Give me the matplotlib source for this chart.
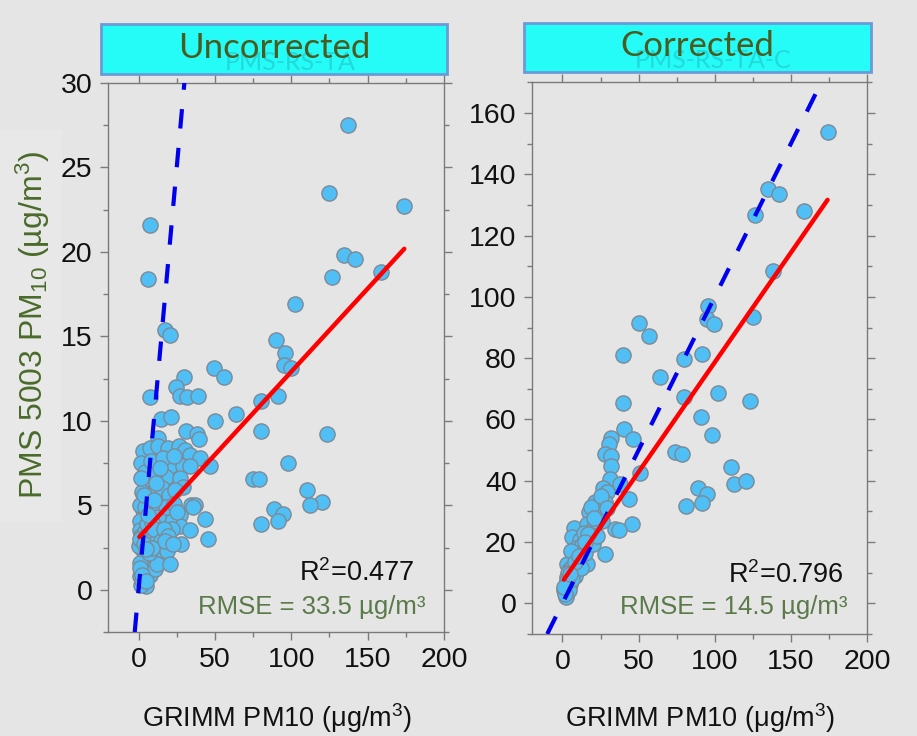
import matplotlib
matplotlib.use("Agg")
import matplotlib.pyplot as plt
from matplotlib.patches import Rectangle
from matplotlib.ticker import MultipleLocator
import numpy as np

plt.rcParams['font.family'] = ['Liberation Sans', 'DejaVu Sans']
plt.rcParams['mathtext.fontset'] = 'custom'
plt.rcParams['mathtext.rm'] = 'Liberation Sans'
plt.rcParams['mathtext.it'] = 'Liberation Sans:italic'
plt.rcParams['mathtext.bf'] = 'Liberation Sans:bold'
plt.rcParams['lines.scale_dashes'] = False

# ---------------- data ----------------
panel_titles = ["Uncorrected", "Corrected"]
panel_ghost_titles = ["PMS-RS-TA", "PMS-RS-TA-C"]
x_label = "GRIMM PM10 (μg/m$^3$)"
y_label = "PMS 5003 PM$_{10}$ (µg/m$^3$)"
r2_texts = ["R$^2$=0.477", "R$^2$=0.796"]
rmse_texts = ["RMSE = 33.5 µg/m³", "RMSE = 14.5 µg/m³"]

unc_x = [137.0, 124.7, 174.0, 7.2, 134.7, 142.0, 158.5, 126.4, 6.4, 102.4,
         17.1, 20.5, 90.1, 95.6, 95.1, 99.5, 49.7, 30.0, 56.0, 24.7,
         27.3, 31.7, 38.9, 7.6, 91.2, 80.0, 63.6, 50.3, 14.4, 21.4,
         80.5, 123.1, 31.3, 38.3, 39.4, 12.7,
         2.8, 7.2, 12.7, 19.2, 26.2, 30.2, 33.5, 40.0, 46.6,
         98.0, 13.8, 21.9, 29.1, 33.5, 75.0, 78.7,
         3.9, 9.4, 13.8, 18.2, 26.9, 29.1, 110.0, 120.0, 112.2,
         88.4, 94.3, 91.2, 80.5, 34.6, 36.7, 35.6, 43.3,
         26.9, 26.9, 33.5, 20.3, 22.1, 15.9, 11.6, 7.2, 2.8, 0.7, 7.2,
         0.7, 13.8, 15.9, 17.0, 9.4, 2.8, 0.7, 3.9, 5.0, 45.5, 28.0,
         1.5, 4.0, 8.0, 10.5, 16.0, 23.5, 5.5, 11.0, 15.5, 20.0,
         24.0, 2.0, 1.0, 4.5, 9.5, 13.0, 18.0, 23.0, 1.8, 4.5,
         6.0, 9.0, 11.5, 12.5, 2.0, 4.0, 6.5, 1.0, 3.0, 7.5,
         10.5, 1.5, 2.5, 5.5, 8.5, 10.0, 12.0, 14.5, 16.5, 19.0,
         18.5, 20.5, 0.5, 1.2, 3.3, 6.8, 8.8, 0.9, 2.2, 5.0,
         17.5, 22.5, 25.0, 6.0, 3.5, 1.4, 11.2, 14.0, 9.8, 4.8]
unc_y = [27.5, 23.5, 22.7, 21.6, 19.8, 19.6, 18.8, 18.5, 18.4, 16.9,
         15.4, 15.1, 14.8, 14.0, 13.3, 13.1, 13.1, 12.6, 12.6, 12.0,
         11.5, 11.4, 11.5, 11.4, 11.5, 11.2, 10.4, 10.0, 10.1, 10.2,
         9.4, 9.2, 9.4, 9.2, 8.9, 9.0,
         8.2, 8.4, 8.5, 8.4, 8.5, 8.3, 8.0, 7.8, 7.3,
         7.5, 7.1, 7.4, 7.3, 7.3, 6.55, 6.55,
         6.4, 6.1, 6.5, 6.7, 6.6, 6.1, 5.9, 5.2, 5.0,
         4.8, 4.5, 4.1, 3.9, 5.0, 5.0, 4.9, 4.2,
         4.4, 3.75, 3.55, 4.3, 3.6, 4.8, 5.5, 5.3, 4.7, 4.1, 3.95,
         3.55, 3.55, 2.56, 1.8, 1.8, 1.5, 0.8, 0.4, 0.2, 3.0, 2.7,
         7.5, 7.0, 7.6, 6.9, 7.8, 7.9, 6.0, 5.9, 6.0, 5.6,
         5.9, 5.8, 5.0, 4.9, 4.6, 4.3, 4.9, 5.1, 3.2, 3.5,
         2.9, 3.2, 2.8, 2.0, 2.4, 2.0, 1.2, 1.6, 1.0, 0.9,
         1.2, 0.3, 0.6, 3.9, 4.0, 3.6, 1.5, 2.9, 3.6, 3.2,
         2.3, 1.5, 2.6, 3.0, 2.7, 2.2, 2.5, 1.3, 0.9, 0.5,
         2.9, 2.7, 4.6, 4.4, 5.6, 6.6, 6.3, 7.2, 5.3, 2.4]

cor_x = [174.1, 134.8, 142.2, 158.6, 126.5, 138.1, 125.4, 95.9, 95.2, 99.6,
         50.0, 56.6, 91.5, 80.1, 39.5, 63.8, 102.4, 123.2, 39.5, 80.1,
         90.9, 98.1, 40.2, 46.3, 31.9, 30.3, 27.7, 31.9, 74.2, 78.6,
         31.9, 50.7, 110.5, 112.9, 120.4, 88.7, 94.8, 91.5, 81.1, 31.5,
         38.0, 26.4, 29.3, 43.4, 21.6, 28.2, 17.2, 24.9, 45.7, 34.7,
         36.9, 7.4, 16.2, 20.5, 6.4, 11.8, 18.3, 28.2, 11.8, 7.4,
         16.2, 3.1, 9.6, 3.1, 5.2, 0.9, 2.0,
         22.0, 19.0, 25.0, 14.0, 9.0, 13.0, 4.5, 6.5, 8.0, 2.5,
         4.0, 1.5, 10.0, 14.5, 5.5, 20.0, 23.0, 26.0, 29.0, 12.0,
         6.0, 3.5, 17.0, 21.0, 15.0, 8.5, 11.0, 2.8, 1.2, 5.0]
cor_y = [153.7, 135.1, 133.7, 128.1, 126.7, 108.4, 93.3, 97.0, 92.7, 91.3,
         91.5, 87.4, 81.5, 79.6, 81.0, 73.9, 68.7, 66.0, 65.5, 67.4,
         60.8, 54.9, 57.0, 53.6, 53.8, 52.1, 48.6, 48.0, 49.4, 48.9,
         44.7, 42.6, 44.5, 38.9, 39.9, 37.6, 35.8, 32.9, 31.8, 40.7,
         39.1, 37.8, 36.3, 34.2, 33.1, 33.1, 29.8, 29.3, 26.0, 24.4,
         24.1, 24.6, 26.0, 24.9, 21.6, 20.6, 21.6, 16.2, 17.3, 15.1,
         13.0, 13.0, 10.8, 8.6, 6.4, 4.2, 2.1,
         27.0, 31.5, 35.0, 23.0, 18.0, 19.0, 11.0, 12.0, 9.0, 6.0,
         4.5, 3.0, 14.5, 16.5, 17.0, 19.5, 22.0, 27.0, 31.0, 11.5,
         8.0, 10.0, 22.5, 28.0, 20.0, 13.5, 15.5, 7.5, 5.5, 9.5]

fit_slope = [0.0983, 0.7155]
fit_intercept = [3.08, 7.1]
x_ticks = [0, 50, 100, 150, 200]
y_ticks_unc = [0, 5, 10, 15, 20, 25, 30]
y_ticks_cor = [0, 20, 40, 60, 80, 100, 120, 140, 160]

# ---------------- figure ----------------
W, H = 917, 736
fig = plt.figure(figsize=(W / 100, H / 100), dpi=100)
bg = '#e5e5e5'
fig.patch.set_facecolor(bg)

def fx(px):
    return px / W

def fy(py):
    return 1 - py / H

# faint panel behind y label
fig.patches.append(Rectangle((fx(0), fy(522)), fx(62), 392 / H, transform=fig.transFigure,
                             facecolor='#e8e8e8', edgecolor='none', zorder=0))

ax1 = fig.add_axes([fx(108), fy(632), fx(336), 549 / H])
ax2 = fig.add_axes([fx(532), fy(634), fx(335), 551.6 / H])

spine_c = '#7a7a7a'
pt_face = '#50bff6'
pt_edge = '#7d8a96'

configs = [
    (ax1, unc_x, unc_y, (-2.5, 30), y_ticks_unc, 2.5, 0),
    (ax2, cor_x, cor_y, (-10, 170), y_ticks_cor, 10, 1),
]
for ax, xs, ys, ylim, yt, yminor, i in configs:
    ax.set_facecolor(bg)
    ax.set_xlim(-20, 200)
    ax.set_ylim(*ylim)
    ax.set_xticks(x_ticks)
    ax.set_yticks(yt)
    ax.xaxis.set_minor_locator(MultipleLocator(25))
    ax.yaxis.set_minor_locator(MultipleLocator(yminor))
    ax.tick_params(which='both', direction='out', top=True, right=True,
                   color=spine_c, width=1, labelsize=20.5, labelcolor='#111111')
    ax.tick_params(which='major', length=6, pad=5)
    ax.tick_params(which='minor', length=3.5)
    for s in ax.spines.values():
        s.set_color(spine_c)
        s.set_linewidth(1)
    ax.scatter(xs, ys, s=120, facecolor=pt_face, edgecolor=pt_edge, linewidth=1.0, zorder=2)
    # 1:1 line
    lo, hi = ylim
    ax.plot([lo, hi], [lo, hi], color='#0000ee', lw=3.0, linestyle=(0, (14, 14)),
            zorder=4, clip_on=True)
    # regression line
    xmin, xmax = min(xs), max(xs)
    ax.plot([xmin, xmax],
            [fit_intercept[i] + fit_slope[i] * xmin, fit_intercept[i] + fit_slope[i] * xmax],
            color='#ff0000', lw=3.2, zorder=5, solid_capstyle='round')

# title boxes
boxes = [(101, 24, 447, 74), (524, 23, 871, 72)]
for (x0, y0, x1, y1), t, g in zip(boxes, panel_titles, panel_ghost_titles):
    fig.patches.append(Rectangle((fx(x0), fy(y1)), fx(x1 - x0), (y1 - y0) / H,
                                 transform=fig.transFigure, facecolor='#25fbf7',
                                 edgecolor='#6d9ad6', linewidth=2, zorder=3))
    cx = fx((x0 + x1) / 2)
    fig.text(cx + fx(16), fy(y1 - 11), g, ha='center', va='center', fontsize=18,
             color='#1fb9bd', alpha=0.5, family=['Lato', 'DejaVu Sans'], zorder=4)
    fig.text(cx, fy((y0 + y1) / 2 - 1), t, ha='center', va='center', fontsize=25,
             color='#4b5a1e', family=['Lato', 'DejaVu Sans'], zorder=5)

# axis labels
fig.text(fx(33), fy(325), y_label, rotation=90, ha='center', va='center',
         fontsize=23, color='#4a6b2a')
fig.text(fx(277), fy(718), x_label, ha='center', va='center', fontsize=19.5, color='#111111')
fig.text(fx(700), fy(718), x_label, ha='center', va='center', fontsize=19.5, color='#111111')

# stats annotations
fig.text(fx(415), fy(573), r2_texts[0], ha='right', va='center', fontsize=19.5, color='#111111')
fig.text(fx(425), fy(607), rmse_texts[0], ha='right', va='center', fontsize=18.5, color='#5b7a4a')
fig.text(fx(844), fy(575), r2_texts[1], ha='right', va='center', fontsize=19.5, color='#111111')
fig.text(fx(848), fy(607), rmse_texts[1], ha='right', va='center', fontsize=18.5, color='#5b7a4a')

fig.savefig('out.png', dpi=100, facecolor=fig.get_facecolor())
